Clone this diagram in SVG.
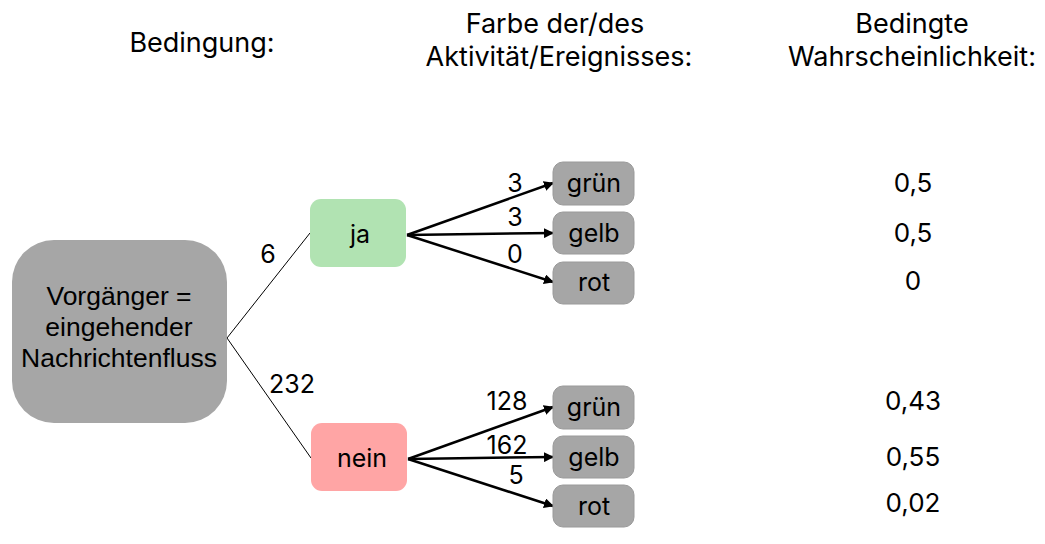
<svg xmlns="http://www.w3.org/2000/svg" width="1045" height="544" viewBox="0 0 1045 544">
<style>
.t{font-family:Inter,"Noto Sans",sans-serif;font-size:25px;fill:#000;text-anchor:middle}
.h{font-size:27px}
.p{font-size:26px}
.a{font-family:"Liberation Sans",Arial,sans-serif;font-size:26.5px;fill:#000;text-anchor:middle}
.box{fill:#a6a6a6;stroke:#9a9a9a;stroke-width:1}
.thin{stroke:#000;stroke-width:1;fill:none}
.arr{stroke:#000;stroke-width:2.5;fill:none;marker-end:url(#ah)}
</style>
<defs>
<marker id="ah" viewBox="0 0 10 10" refX="9" refY="5" markerWidth="4" markerHeight="4" orient="auto" markerUnits="strokeWidth">
<path d="M0,0 L10,5 L0,10 z" fill="#000"/>
</marker>
</defs>
<g id="headers">
<text class="t h" x="202" y="52">Bedingung:</text>
<text class="t h" x="555" y="33">Farbe der/des</text>
<text class="t h" x="559" y="66">Aktivität/Ereignisses:</text>
<text class="t h" x="912" y="33">Bedingte</text>
<text class="t h" x="912" y="66">Wahrscheinlichkeit:</text>
</g>
<g id="connectors">
<line class="thin" x1="227" y1="338" x2="310" y2="233"/>
<line class="thin" x1="227" y1="338" x2="311" y2="458"/>
<path class="arr" d="M407,235 L553,183"/>
<path class="arr" d="M407,235 L553,233"/>
<path class="arr" d="M407,235 L553,282"/>
<path class="arr" d="M408,459 L553,407"/>
<path class="arr" d="M408,459 L553,457"/>
<path class="arr" d="M408,459 L553,506"/>
<text class="t" x="268" y="263">6</text>
<text class="t" x="292" y="393">232</text>
<text class="t" x="515" y="192">3</text>
<text class="t" x="515" y="226">3</text>
<text class="t" x="515" y="263">0</text>
<text class="t" x="507" y="410">128</text>
<text class="t" x="507" y="454">162</text>
<text class="t" x="516" y="484">5</text>
</g>
<g id="root">
<rect x="12" y="240" width="215" height="183" rx="42" fill="#a6a6a6"/>
<text class="a" x="119" y="305">Vorgänger =</text>
<text class="a" x="119" y="336">eingehender</text>
<text class="a" x="119" y="367">Nachrichtenfluss</text>
</g>
<g id="ja">
<rect x="310" y="199" width="96" height="68" rx="11" fill="#b1e3b2"/>
<text class="t" x="360" y="243">ja</text>
</g>
<g id="nein">
<rect x="311" y="423" width="96" height="68" rx="11" fill="#ffa5a5"/>
<text class="t" x="362" y="467">nein</text>
</g>
<g id="ja-gruen"><rect class="box" x="553" y="162" width="81" height="43" rx="10"/><text class="t" x="594" y="192">grün</text></g>
<g id="ja-gelb"><rect class="box" x="553" y="212" width="81" height="42" rx="10"/><text class="t" x="594" y="242">gelb</text></g>
<g id="ja-rot"><rect class="box" x="553" y="262" width="81" height="42" rx="10"/><text class="t" x="594" y="291">rot</text></g>
<g id="nein-gruen"><rect class="box" x="553" y="386" width="81" height="43" rx="10"/><text class="t" x="594" y="416">grün</text></g>
<g id="nein-gelb"><rect class="box" x="553" y="436" width="81" height="42" rx="10"/><text class="t" x="594" y="466">gelb</text></g>
<g id="nein-rot"><rect class="box" x="553" y="485" width="81" height="42" rx="10"/><text class="t" x="594" y="515">rot</text></g>
<g id="probabilities">
<text class="t p" x="913" y="192">0,5</text>
<text class="t p" x="913" y="242">0,5</text>
<text class="t p" x="913" y="290">0</text>
<text class="t p" x="913" y="410">0,43</text>
<text class="t p" x="913" y="466">0,55</text>
<text class="t p" x="913" y="512">0,02</text>
</g>
</svg>
